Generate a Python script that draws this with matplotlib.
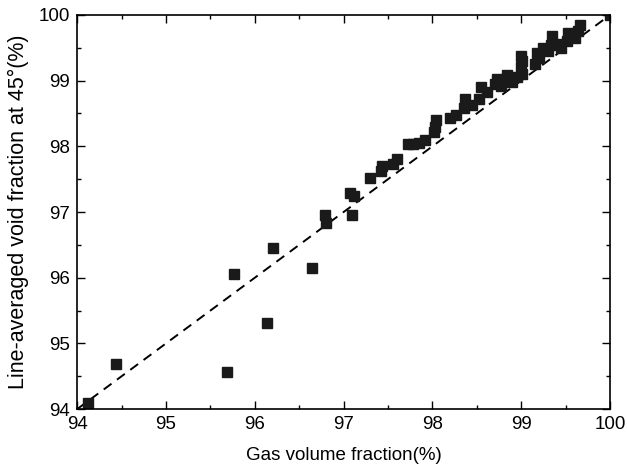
import matplotlib
matplotlib.use("Agg")
import matplotlib.pyplot as plt
from matplotlib.ticker import MultipleLocator

plt.rcParams["font.family"] = ["Liberation Sans", "DejaVu Sans"]

# ── Data ─────────────────────────────────────────────────────
gvf = [94.12, 94.44, 95.69, 95.77, 96.14, 96.21, 96.64, 96.79, 96.80,
       97.07, 97.12, 97.10, 97.30, 97.42, 97.43, 97.56, 97.60, 97.72,
       97.78, 97.85, 97.92, 98.02, 98.03, 98.04, 98.20, 98.27, 98.35,
       98.37, 98.45, 98.53, 98.55, 98.62, 98.70, 98.73, 98.77, 98.84,
       98.90, 98.95, 99.00, 99.01, 99.00, 99.01, 99.16, 99.18, 99.20,
       99.25, 99.30, 99.33, 99.35, 99.40, 99.45, 99.52, 99.53, 99.60,
       99.66, 99.64, 100.0]
void = [94.10, 94.68, 94.56, 96.05, 95.31, 96.45, 96.15, 96.95, 96.84,
        97.29, 97.24, 96.95, 97.52, 97.62, 97.70, 97.73, 97.80, 98.03,
        98.04, 98.05, 98.10, 98.22, 98.30, 98.40, 98.43, 98.48, 98.58,
        98.72, 98.63, 98.72, 98.90, 98.83, 98.95, 99.02, 98.92, 99.08,
        98.98, 99.05, 99.20, 99.30, 99.38, 99.10, 99.26, 99.42, 99.35,
        99.50, 99.45, 99.54, 99.68, 99.55, 99.50, 99.60, 99.73, 99.65,
        99.85, 99.75, 100.0]
diag = [94, 100]

# ── Plot ─────────────────────────────────────────────────────
fig = plt.figure(figsize=(6.27, 4.66), dpi=100)
ax = fig.add_axes([0.123, 0.122, 0.850, 0.846])

ax.plot(diag, diag, "k--", lw=1.4, dashes=(5, 3.5))
ax.plot(gvf, void, "s", color="#1a1a1a", ms=7, mec="#1a1a1a")

ax.set_xlim(94, 100)
ax.set_ylim(94, 100)
ax.xaxis.set_major_locator(MultipleLocator(1))
ax.yaxis.set_major_locator(MultipleLocator(1))
ax.xaxis.set_minor_locator(MultipleLocator(0.5))
ax.yaxis.set_minor_locator(MultipleLocator(0.5))
ax.tick_params(which="both", direction="in", top=True, right=True,
               labelsize=13.5, width=1, pad=5)
ax.tick_params(which="major", length=6)
ax.tick_params(which="minor", length=3)
for s in ax.spines.values():
    s.set_linewidth(1.2)

ax.set_xlabel("Gas volume fraction(%)", fontsize=13.5, labelpad=10)
ax.set_ylabel("Line-averaged void fraction at 45\u00b0(%)", fontsize=15.5,
              labelpad=7)

plt.savefig("out.png", dpi=100)
plt.close()
